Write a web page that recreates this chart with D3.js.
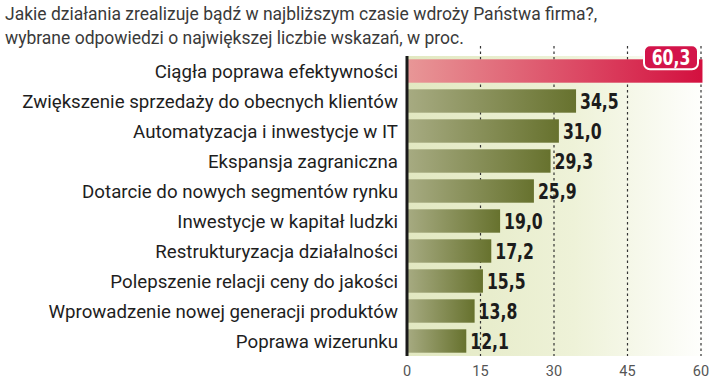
<!DOCTYPE html>
<html>
<head>
<meta charset="utf-8">
<script src="https://cdn.jsdelivr.net/npm/d3@7"></script>
<style>
  html, body { margin: 0; padding: 0; background: #fff; }
  svg { display: block; }
  .title { font-family: Roboto, sans-serif; font-size: 17.5px; fill: #3a3a3a; }
  .cat { font-family: Roboto, sans-serif; font-size: 18.7px; fill: #1e1e1e; }
  .val { font-family: "DejaVu Sans Condensed", sans-serif; font-weight: 700; font-size: 21px; fill: #1c1c1c; }
  .tick-label { font-family: Roboto, sans-serif; font-size: 14.5px; fill: #555; }
</style>
</head>
<body>
<svg id="chart" width="720" height="387"></svg>
<script>
const titleLines = [
  "Jakie działania zrealizuje bądź w najbliższym czasie wdroży Państwa firma?,",
  "wybrane odpowiedzi o największej liczbie wskazań, w proc."
];

const categories = [
  "Ciągła poprawa efektywności",
  "Zwiększenie sprzedaży do obecnych klientów",
  "Automatyzacja i inwestycje w IT",
  "Ekspansja zagraniczna",
  "Dotarcie do nowych segmentów rynku",
  "Inwestycje w kapitał ludzki",
  "Restrukturyzacja działalności",
  "Polepszenie relacji ceny do jakości",
  "Wprowadzenie nowej generacji produktów",
  "Poprawa wizerunku"
];

const values = [60.3, 34.5, 31.0, 29.3, 25.9, 19.0, 17.2, 15.5, 13.8, 12.1];

const ticks = [0, 15, 30, 45, 60];

const fmt = v => d3.format(".1f")(v).replace(".", ",");
const squeeze = 0.83; // condensed look for the value labels

const svg = d3.select("#chart");

const x = d3.scaleLinear().domain([0, 60]).range([407, 701]);
const y = d3.scaleBand().domain(categories).range([56, 356]).paddingInner(0.22).paddingOuter(0.11);

const defs = svg.append("defs");

const bg = defs.append("linearGradient").attr("id", "bg").attr("x1", 0).attr("x2", 1).attr("y1", 0).attr("y2", 0);
bg.append("stop").attr("offset", "0%").attr("stop-color", "#e2e8c1");
bg.append("stop").attr("offset", "55%").attr("stop-color", "#eef2d8");
bg.append("stop").attr("offset", "100%").attr("stop-color", "#ffffff");

const green = defs.append("linearGradient").attr("id", "green").attr("x1", 0).attr("x2", 1).attr("y1", 0).attr("y2", 0);
green.append("stop").attr("offset", "0%").attr("stop-color", "#a7ab82");
green.append("stop").attr("offset", "100%").attr("stop-color", "#67722e");

const red = defs.append("linearGradient").attr("id", "red").attr("x1", 0).attr("x2", 1).attr("y1", 0).attr("y2", 0);
red.append("stop").attr("offset", "0%").attr("stop-color", "#e89797");
red.append("stop").attr("offset", "100%").attr("stop-color", "#d3103f");

// title
svg.selectAll("text.title")
  .data(titleLines)
  .join("text")
  .attr("class", "title")
  .attr("x", 5)
  .attr("y", (d, i) => 20 + i * 24)
  .text(d => d);

// panel background
svg.append("rect")
  .attr("x", x(0))
  .attr("y", y.range()[0])
  .attr("width", 710 - x(0))
  .attr("height", y.range()[1] - y.range()[0])
  .attr("fill", "url(#bg)");

// grid lines
svg.selectAll("line.grid")
  .data(ticks.slice(1))
  .join("line")
  .attr("class", "grid")
  .attr("x1", d => x(d))
  .attr("x2", d => x(d))
  .attr("y1", y.range()[0] - 10)
  .attr("y2", y.range()[1])
  .attr("stroke", "#333")
  .attr("stroke-width", 1.2)
  .attr("stroke-dasharray", "2.5 3");

// bars
svg.selectAll("rect.bar")
  .data(values)
  .join("rect")
  .attr("class", "bar")
  .attr("x", x(0))
  .attr("y", (d, i) => y(categories[i]))
  .attr("width", d => x(d) - x(0))
  .attr("height", y.bandwidth())
  .attr("fill", (d, i) => i === 0 ? "url(#red)" : "url(#green)");

// axis line
svg.append("line")
  .attr("x1", x(0)).attr("x2", x(0))
  .attr("y1", y.range()[0]).attr("y2", y.range()[1])
  .attr("stroke", "#1a1a1a")
  .attr("stroke-width", 3);

// category labels
svg.selectAll("text.cat")
  .data(categories)
  .join("text")
  .attr("class", "cat")
  .attr("x", 398)
  .attr("y", d => y(d) + y.bandwidth() / 2 + 6.5)
  .attr("text-anchor", "end")
  .text(d => d);

// value labels (all but the first)
svg.selectAll("text.val")
  .data(values.slice(1))
  .join("text")
  .attr("class", "val")
  .attr("transform", (d, i) => `translate(${x(d) + 4},${y(categories[i + 1]) + y.bandwidth() / 2 + 7.5}) scale(${squeeze},1)`)
  .text(d => fmt(d));

// highlighted first value
const topValue = values[0];
const boxW = 54, boxH = 24;
const bx = Math.min(x(topValue), 702) - boxW - 4;
const by = y(categories[0]) - 14;
svg.append("rect")
  .attr("x", bx).attr("y", by)
  .attr("width", boxW).attr("height", boxH)
  .attr("rx", 6)
  .attr("fill", "#d3144a")
  .attr("stroke", "#fff")
  .attr("stroke-width", 2);
svg.append("text")
  .attr("class", "val")
  .attr("transform", `translate(${bx + boxW / 2},${by + boxH / 2 + 7.5}) scale(${squeeze},1)`)
  .attr("text-anchor", "middle")
  .style("fill", "#fff")
  .text(fmt(topValue));

// x tick labels
svg.selectAll("text.tick-label")
  .data(ticks)
  .join("text")
  .attr("class", "tick-label")
  .attr("x", d => x(d))
  .attr("y", 376)
  .attr("text-anchor", "middle")
  .text(d => d);
</script>
</body>
</html>
